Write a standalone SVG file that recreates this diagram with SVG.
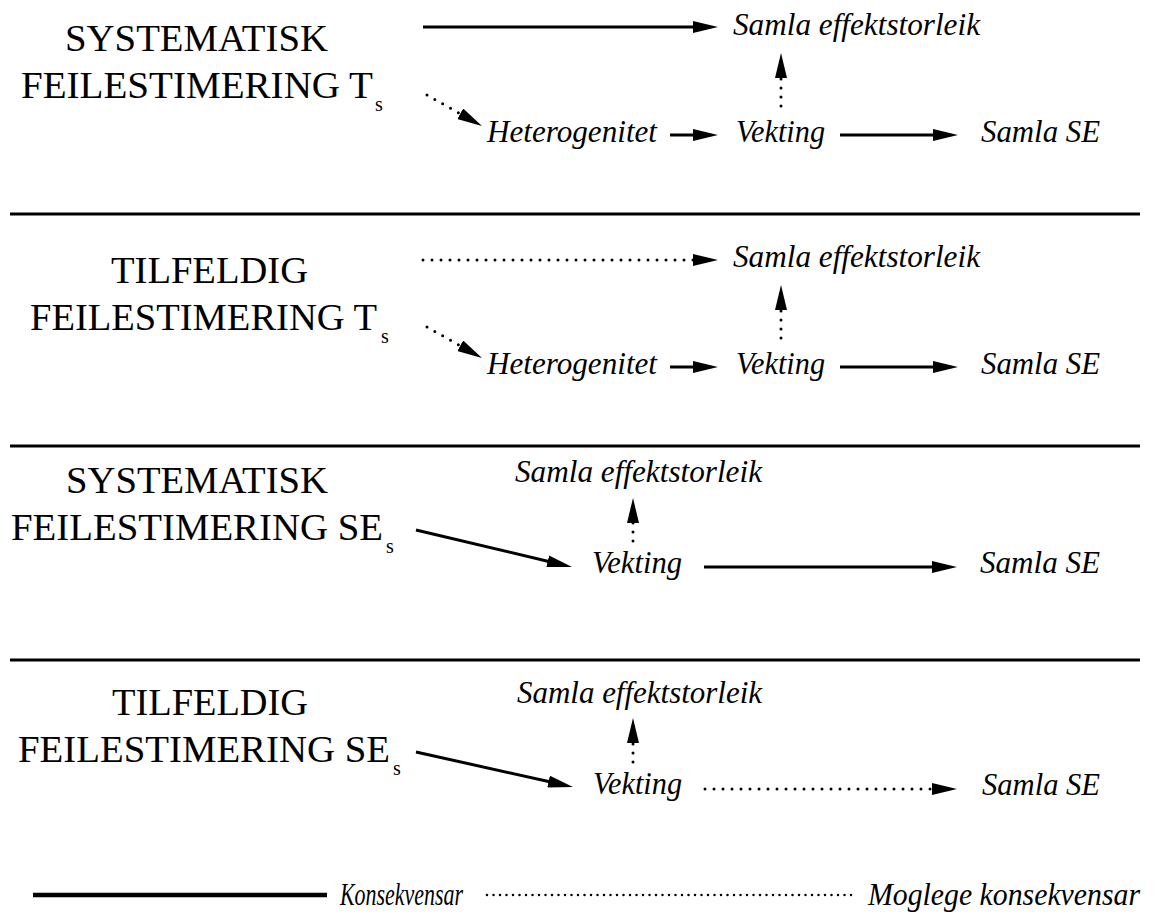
<svg xmlns="http://www.w3.org/2000/svg" width="1164" height="921" viewBox="0 0 1164 921">
<defs>
<style>
.h{font-family:'Liberation Serif','Times New Roman',serif;font-size:38px;fill:#000}
.sub{font-family:'Liberation Serif','Times New Roman',serif;font-size:20px;fill:#000}
.n{font-family:'Liberation Serif','Times New Roman',serif;font-style:italic;font-size:31px;fill:#000}
.sol{stroke:#000;stroke-width:3;fill:none}
.dot{stroke:#000;stroke-width:3;fill:none;stroke-linecap:round;stroke-dasharray:0 9}
.sep{stroke:#000;stroke-width:3}
</style>
<marker id="ah" markerUnits="userSpaceOnUse" markerWidth="25" markerHeight="12" refX="15" refY="6" orient="auto" viewBox="0 0 25 12">
<path d="M0,0 L25,6 L0,12 z" fill="#000"/>
</marker>
</defs>
<rect width="1164" height="921" fill="#fff"/>

<g id="sec1">
<text class="h" x="65" y="51" textLength="263" lengthAdjust="spacingAndGlyphs">SYSTEMATISK</text>
<text class="h" x="21" y="98" textLength="352" lengthAdjust="spacingAndGlyphs">FEILESTIMERING T</text>
<text class="sub" x="375" y="111">s</text>
</g>
<g id="n1-samla"><text class="n" x="733" y="35" textLength="247" lengthAdjust="spacingAndGlyphs">Samla effektstorleik</text></g>
<g id="n1-het"><text class="n" x="487" y="142" textLength="170" lengthAdjust="spacingAndGlyphs">Heterogenitet</text></g>
<g id="n1-vek"><text class="n" x="736" y="142" textLength="89" lengthAdjust="spacingAndGlyphs">Vekting</text></g>
<g id="n1-se"><text class="n" x="981" y="142" textLength="119" lengthAdjust="spacingAndGlyphs">Samla SE</text></g>

<g id="sec2">
<text class="h" x="111" y="283" textLength="197" lengthAdjust="spacingAndGlyphs">TILFELDIG</text>
<text class="h" x="30" y="330" textLength="347" lengthAdjust="spacingAndGlyphs">FEILESTIMERING T</text>
<text class="sub" x="381" y="343">s</text>
</g>
<g id="n2-samla"><text class="n" x="733" y="267" textLength="247" lengthAdjust="spacingAndGlyphs">Samla effektstorleik</text></g>
<g id="n2-het"><text class="n" x="487" y="374" textLength="170" lengthAdjust="spacingAndGlyphs">Heterogenitet</text></g>
<g id="n2-vek"><text class="n" x="736" y="374" textLength="89" lengthAdjust="spacingAndGlyphs">Vekting</text></g>
<g id="n2-se"><text class="n" x="981" y="374" textLength="119" lengthAdjust="spacingAndGlyphs">Samla SE</text></g>

<g id="sec3">
<text class="h" x="66" y="493" textLength="262" lengthAdjust="spacingAndGlyphs">SYSTEMATISK</text>
<text class="h" x="11" y="540" textLength="372" lengthAdjust="spacingAndGlyphs">FEILESTIMERING SE</text>
<text class="sub" x="386" y="553">s</text>
</g>
<g id="n3-samla"><text class="n" x="515" y="482" textLength="247" lengthAdjust="spacingAndGlyphs">Samla effektstorleik</text></g>
<g id="n3-vek"><text class="n" x="592" y="573" textLength="90" lengthAdjust="spacingAndGlyphs">Vekting</text></g>
<g id="n3-se"><text class="n" x="980" y="573" textLength="120" lengthAdjust="spacingAndGlyphs">Samla SE</text></g>

<g id="sec4">
<text class="h" x="112" y="715" textLength="196" lengthAdjust="spacingAndGlyphs">TILFELDIG</text>
<text class="h" x="18" y="762" textLength="372" lengthAdjust="spacingAndGlyphs">FEILESTIMERING SE</text>
<text class="sub" x="393" y="775">s</text>
</g>
<g id="n4-samla"><text class="n" x="517" y="703" textLength="245" lengthAdjust="spacingAndGlyphs">Samla effektstorleik</text></g>
<g id="n4-vek"><text class="n" x="593" y="794" textLength="89" lengthAdjust="spacingAndGlyphs">Vekting</text></g>
<g id="n4-se"><text class="n" x="982" y="795" textLength="118" lengthAdjust="spacingAndGlyphs">Samla SE</text></g>

<g id="separators">
<line class="sep" x1="10" y1="214" x2="1140" y2="214"/>
<line class="sep" x1="10" y1="446" x2="1140" y2="446"/>
<line class="sep" x1="10" y1="660" x2="1140" y2="660"/>
</g>

<g id="connectors">
<line class="sol" x1="423" y1="27" x2="708" y2="27" marker-end="url(#ah)"/>
<line class="dot" x1="427" y1="95" x2="473.3" y2="121.1" marker-end="url(#ah)"/>
<line class="sol" x1="670" y1="135" x2="708" y2="135" marker-end="url(#ah)"/>
<line class="dot" x1="781" y1="106" x2="781" y2="63" marker-end="url(#ah)"/>
<line class="sol" x1="840" y1="135" x2="948" y2="135" marker-end="url(#ah)"/>

<line class="dot" x1="423" y1="260" x2="708" y2="260" marker-end="url(#ah)"/>
<line class="dot" x1="427" y1="327" x2="473.3" y2="353.1" marker-end="url(#ah)"/>
<line class="sol" x1="670" y1="367" x2="708" y2="367" marker-end="url(#ah)"/>
<line class="dot" x1="781" y1="338" x2="781" y2="295" marker-end="url(#ah)"/>
<line class="sol" x1="840" y1="367" x2="948" y2="367" marker-end="url(#ah)"/>

<line class="dot" x1="633" y1="541" x2="633" y2="508" marker-end="url(#ah)"/>
<line class="sol" x1="416" y1="530" x2="562.3" y2="564.7" marker-end="url(#ah)"/>
<line class="sol" x1="704" y1="567" x2="947" y2="567" marker-end="url(#ah)"/>

<line class="dot" x1="633" y1="762" x2="633" y2="728" marker-end="url(#ah)"/>
<line class="sol" x1="416" y1="752" x2="563.2" y2="784.8" marker-end="url(#ah)"/>
<line class="dot" x1="705" y1="789" x2="947" y2="789" marker-end="url(#ah)"/>
</g>

<g id="legend">
<line x1="33" y1="895" x2="327" y2="895" stroke="#000" stroke-width="4.5"/>
<text class="n" x="340" y="905" textLength="123" lengthAdjust="spacingAndGlyphs">Konsekvensar</text>
<line x1="487" y1="895" x2="855" y2="895" stroke="#000" stroke-width="2.5" stroke-linecap="round" stroke-dasharray="0 6.5"/>
<text class="n" x="868" y="905" textLength="272" lengthAdjust="spacingAndGlyphs">Moglege konsekvensar</text>
</g>
</svg>
